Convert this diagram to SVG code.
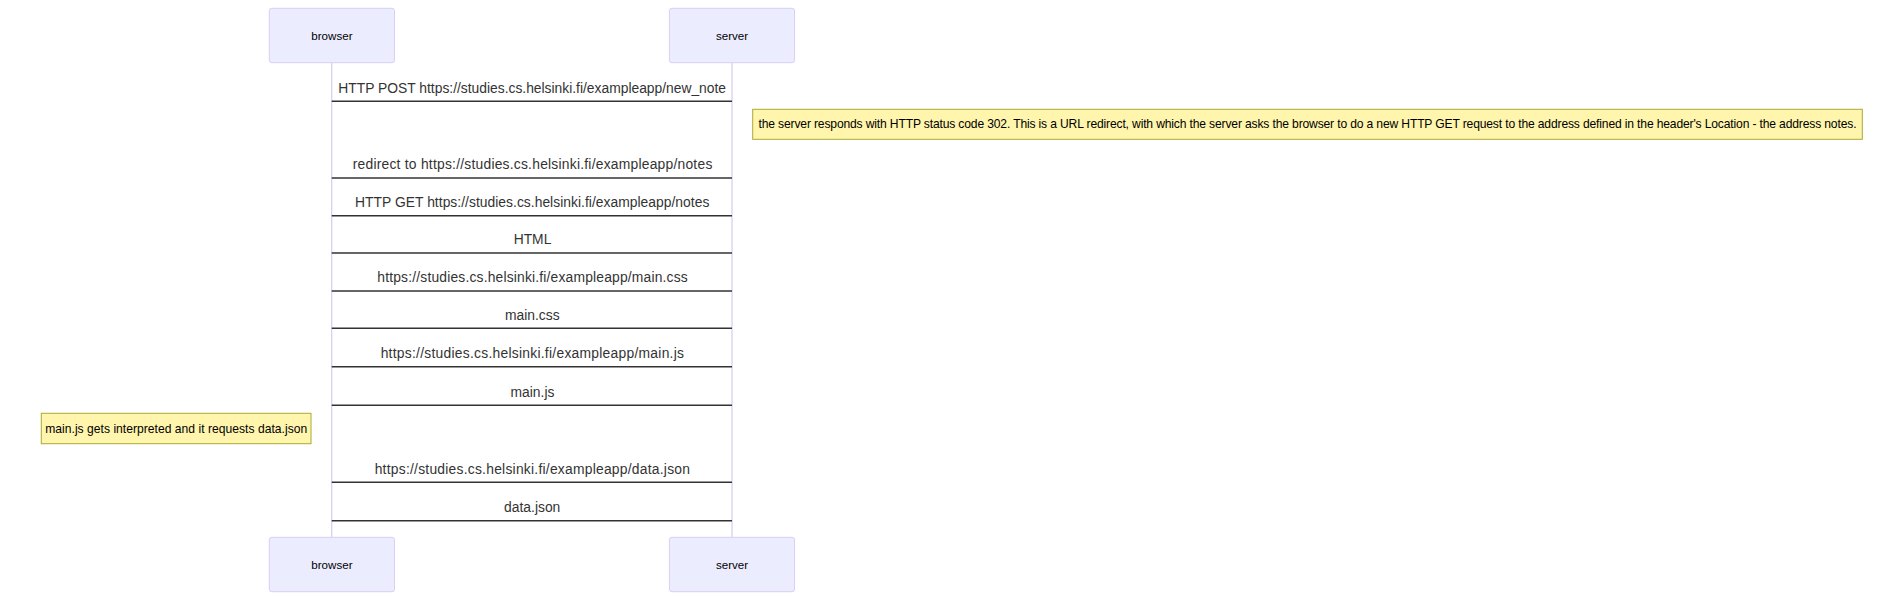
<svg xmlns="http://www.w3.org/2000/svg" width="1904" height="601" viewBox="0 0 1904 601">
<style>
.actor rect{fill:#ECECFF;stroke:#DACEF3;stroke-width:1}
.actor text{font-family:"Liberation Sans",Arial,sans-serif;font-size:11.6px;fill:#000;text-anchor:middle}
.lifeline{stroke:#DACEF3;stroke-width:1.3;fill:none}
.msg line{stroke:#333;stroke-width:1.6}
.msg text{font-family:"Liberation Sans",Arial,sans-serif;font-size:13.85px;fill:#333;text-anchor:middle}
.note rect{fill:#FFF5AD;stroke:#AAAA33;stroke-width:1}
.note text{font-family:"Liberation Sans",Arial,sans-serif;font-size:12.1px;fill:#000;text-anchor:middle}
</style>
<rect x="0" y="0" width="1904" height="601" fill="#fff"/>
<g id="lifelines">
<line class="lifeline" x1="331.7" y1="62.7" x2="331.7" y2="537.3"/>
<line class="lifeline" x1="732" y1="62.7" x2="732" y2="537.3"/>
</g>
<g id="browser-top" class="actor"><rect x="269.3" y="8.3" width="125.2" height="54.4" rx="2.5"/><text x="331.9" y="40">browser</text></g>
<g id="server-top" class="actor"><rect x="669.4" y="8.3" width="125.2" height="54.4" rx="2.5"/><text x="732" y="40">server</text></g>
<g id="browser-bottom" class="actor"><rect x="269.3" y="537.3" width="125.2" height="54.4" rx="2.5"/><text x="331.9" y="569">browser</text></g>
<g id="server-bottom" class="actor"><rect x="669.4" y="537.3" width="125.2" height="54.4" rx="2.5"/><text x="732" y="569">server</text></g>
<g id="note-redirect" class="note"><rect x="752.7" y="109.3" width="1109.6" height="30"/><text x="1307.5" y="128.3" textLength="1098" lengthAdjust="spacing">the server responds with HTTP status code 302. This is a URL redirect, with which the server asks the browser to do a new HTTP GET request to the address defined in the header's Location - the address notes.</text></g>
<g id="note-mainjs" class="note"><rect x="41.3" y="413.3" width="269.7" height="30.4"/><text x="176.2" y="433.3" textLength="262" lengthAdjust="spacing">main.js gets interpreted and it requests data.json</text></g>
<g id="connectors" class="msg">
<line x1="331.7" y1="101.3" x2="732" y2="101.3"/><text x="532.2" y="92.5" textLength="387.7" lengthAdjust="spacing">HTTP POST https://studies.cs.helsinki.fi/exampleapp/new_note</text>
<line x1="331.7" y1="178" x2="732" y2="178"/><text x="532.5" y="169.2" textLength="359.6" lengthAdjust="spacing">redirect to https://studies.cs.helsinki.fi/exampleapp/notes</text>
<line x1="331.7" y1="215.7" x2="732" y2="215.7"/><text x="532.2" y="206.9" textLength="354.3" lengthAdjust="spacing">HTTP GET https://studies.cs.helsinki.fi/exampleapp/notes</text>
<line x1="331.7" y1="253" x2="732" y2="253"/><text x="532.5" y="244.2">HTML</text>
<line x1="331.7" y1="291" x2="732" y2="291"/><text x="532.5" y="282.2" textLength="310.4" lengthAdjust="spacing">https://studies.cs.helsinki.fi/exampleapp/main.css</text>
<line x1="331.7" y1="328.3" x2="732" y2="328.3"/><text x="532.3" y="319.5">main.css</text>
<line x1="331.7" y1="366.7" x2="732" y2="366.7"/><text x="532.3" y="357.9" textLength="303.3" lengthAdjust="spacing">https://studies.cs.helsinki.fi/exampleapp/main.js</text>
<line x1="331.7" y1="405.3" x2="732" y2="405.3"/><text x="532.5" y="396.5">main.js</text>
<line x1="331.7" y1="482.3" x2="732" y2="482.3"/><text x="532.3" y="473.5" textLength="315.3" lengthAdjust="spacing">https://studies.cs.helsinki.fi/exampleapp/data.json</text>
<line x1="331.7" y1="520.7" x2="732" y2="520.7"/><text x="532.2" y="511.9">data.json</text>
</g>
</svg>
